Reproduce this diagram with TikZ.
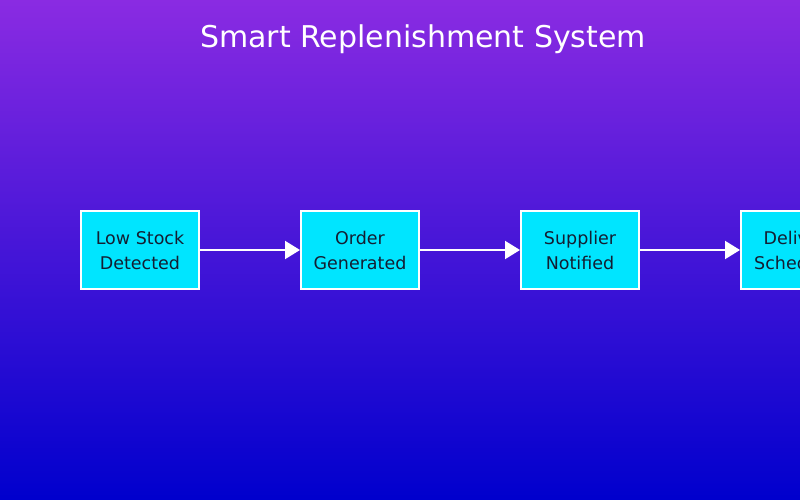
\documentclass[tikz,border=0pt]{standalone}
\usepackage{fontspec}
\setmainfont{DejaVu Sans}
\usetikzlibrary{positioning,arrows.meta}
\definecolor{bgtop}{RGB}{138,43,226}
\definecolor{bgbot}{RGB}{0,0,205}
\definecolor{boxfill}{RGB}{0,229,255}
\definecolor{boxtext}{RGB}{20,30,50}
\begin{document}
\begin{tikzpicture}[x=1pt,y=-1pt,
  stage/.style={draw=white,line width=2pt,fill=boxfill,text=boxtext,
    minimum width=118pt,minimum height=78pt,align=center,
    font=\fontsize{17.5pt}{25pt}\selectfont},
  flow/.style={draw=white,line width=2pt,-{Triangle[length=15pt,width=18pt]}},
  node distance=100pt]
\clip (0,0) rectangle (800,500);
\shade[top color=bgtop,bottom color=bgbot,middle color=bgtop!50!bgbot] (0,0) rectangle (800,500);
\node[text=white,font=\fontsize{30pt}{34pt}\selectfont] (title) at (423,39) {Smart Replenishment System};
% stages of the replenishment flow
\node[stage] (low) at (140,250) {Low Stock\\Detected};
\node[stage,right=of low] (order) {Order\\Generated};
\node[stage,right=of order] (supplier) {Supplier\\Notified};
\node[stage,right=of supplier] (delivery) {Delivery\\Scheduled};
\draw[flow] (low) -- (order);
\draw[flow] (order) -- (supplier);
\draw[flow] (supplier) -- (delivery);
\end{tikzpicture}
\end{document}
